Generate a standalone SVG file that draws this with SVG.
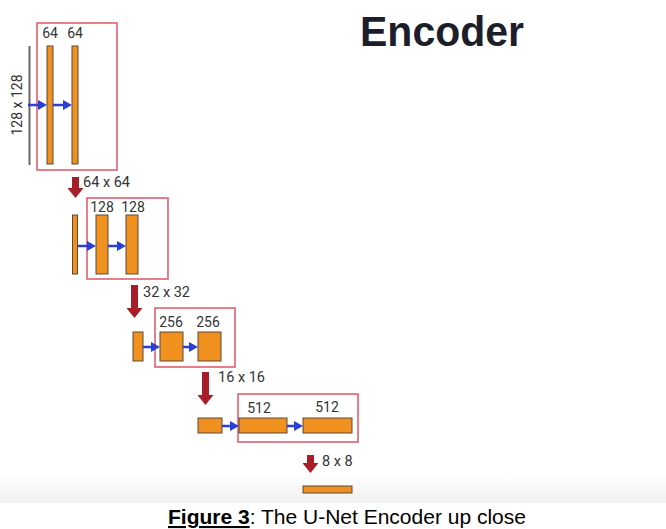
<svg xmlns="http://www.w3.org/2000/svg" width="666" height="529" viewBox="0 0 666 529">
<defs>
<linearGradient id="bandg" x1="0" y1="0" x2="0" y2="1">
<stop offset="0" stop-color="#ffffff"/>
<stop offset="1" stop-color="#f1f1f1"/>
</linearGradient>
<marker id="bh" markerUnits="userSpaceOnUse" markerWidth="9" markerHeight="10" refX="0" refY="5" orient="auto">
<path d="M0,0 L9,5 L0,10 z" fill="#2a3fd6"/>
</marker>
<marker id="rh" markerUnits="userSpaceOnUse" markerWidth="10" markerHeight="16" refX="0" refY="8" orient="auto">
<path d="M0,0 L10,8 L0,16 z" fill="#a81e28"/>
</marker>
</defs>
<style>
.bar{fill:#f0901f;stroke:#5a4a3a;stroke-width:1}
.box{fill:none;stroke:#e0606e;stroke-width:1.6}
.lbl{font-family:Roboto,"Liberation Sans",sans-serif;font-size:14px;fill:#333;text-anchor:middle}
.dim{font-family:Roboto,"Liberation Sans",sans-serif;font-size:14.5px;fill:#333}
.ba{stroke:#2a3fd6;stroke-width:2.5;marker-end:url(#bh)}
.ra{stroke:#a81e28;stroke-width:7;marker-end:url(#rh)}
</style>
<rect x="0" y="0" width="666" height="529" fill="#ffffff"/>
<rect x="0" y="474" width="666" height="29" fill="url(#bandg)"/>

<text x="360" y="46" font-family="'Liberation Sans',Arial,sans-serif" font-weight="bold" font-size="42" fill="#1c1f2b" textLength="164" lengthAdjust="spacingAndGlyphs">Encoder</text>

<g id="input">
<line x1="29.5" y1="46" x2="29.5" y2="165" stroke="#666" stroke-width="2"/>
<text transform="translate(22,105) rotate(-90)" class="lbl" font-size="13.5">128 x 128</text>
</g>

<g id="block1">
<rect class="box" x="37" y="23" width="80" height="147"/>
<rect class="bar" x="47" y="46" width="6" height="118"/>
<rect class="bar" x="72" y="46" width="6" height="118"/>
<text class="lbl" x="50" y="38">64</text>
<text class="lbl" x="75" y="38">64</text>
</g>

<g id="block2">
<rect class="bar" x="72.5" y="215" width="5" height="59"/>
<rect class="box" x="87" y="198" width="81" height="81"/>
<rect class="bar" x="96" y="215" width="12" height="59"/>
<rect class="bar" x="126" y="215" width="12" height="59"/>
<text class="lbl" x="102" y="212" font-size="13.5">128</text>
<text class="lbl" x="133" y="212" font-size="13.5">128</text>
<text class="dim" x="83" y="187">64 x 64</text>
</g>

<g id="block3">
<rect class="bar" x="133" y="332" width="10" height="29"/>
<rect class="box" x="155" y="308" width="80" height="59"/>
<rect class="bar" x="160" y="332" width="23" height="29"/>
<rect class="bar" x="198" y="332" width="23" height="29"/>
<text class="lbl" x="171" y="327">256</text>
<text class="lbl" x="208" y="327">256</text>
<text class="dim" x="143" y="297">32 x 32</text>
</g>

<g id="block4">
<rect class="bar" x="198" y="418" width="24" height="15"/>
<rect class="box" x="238" y="394" width="120" height="48"/>
<rect class="bar" x="239" y="418" width="48" height="15"/>
<rect class="bar" x="303" y="418" width="49" height="15"/>
<text class="lbl" x="259" y="413">512</text>
<text class="lbl" x="327" y="412">512</text>
<text class="dim" x="218" y="382">16 x 16</text>
</g>

<g id="block5">
<rect class="bar" x="303" y="486" width="49" height="7"/>
<text class="dim" x="322" y="466">8 x 8</text>
</g>

<g id="connectors">
<line class="ba" x1="28" y1="105" x2="38" y2="105"/>
<line class="ba" x1="53" y1="105" x2="63" y2="105"/>
<line class="ba" x1="78" y1="246" x2="87" y2="246"/>
<line class="ba" x1="108" y1="246" x2="117" y2="246"/>
<line class="ba" x1="143" y1="347" x2="151" y2="347"/>
<line class="ba" x1="183" y1="347" x2="189" y2="347"/>
<line class="ba" x1="222" y1="426" x2="230" y2="426"/>
<line class="ba" x1="287" y1="426" x2="294" y2="426"/>
<line class="ra" x1="75.5" y1="177" x2="75.5" y2="188"/>
<line class="ra" x1="134.5" y1="285" x2="134.5" y2="308"/>
<line class="ra" x1="205.5" y1="372" x2="205.5" y2="395"/>
<line class="ra" x1="310.5" y1="455" x2="310.5" y2="463"/>
</g>

<text x="168" y="524" font-family="'Liberation Sans',Arial,sans-serif" font-size="21" fill="#000"><tspan font-weight="bold" text-decoration="underline">Figure 3</tspan>: The U-Net Encoder up close</text>
</svg>
